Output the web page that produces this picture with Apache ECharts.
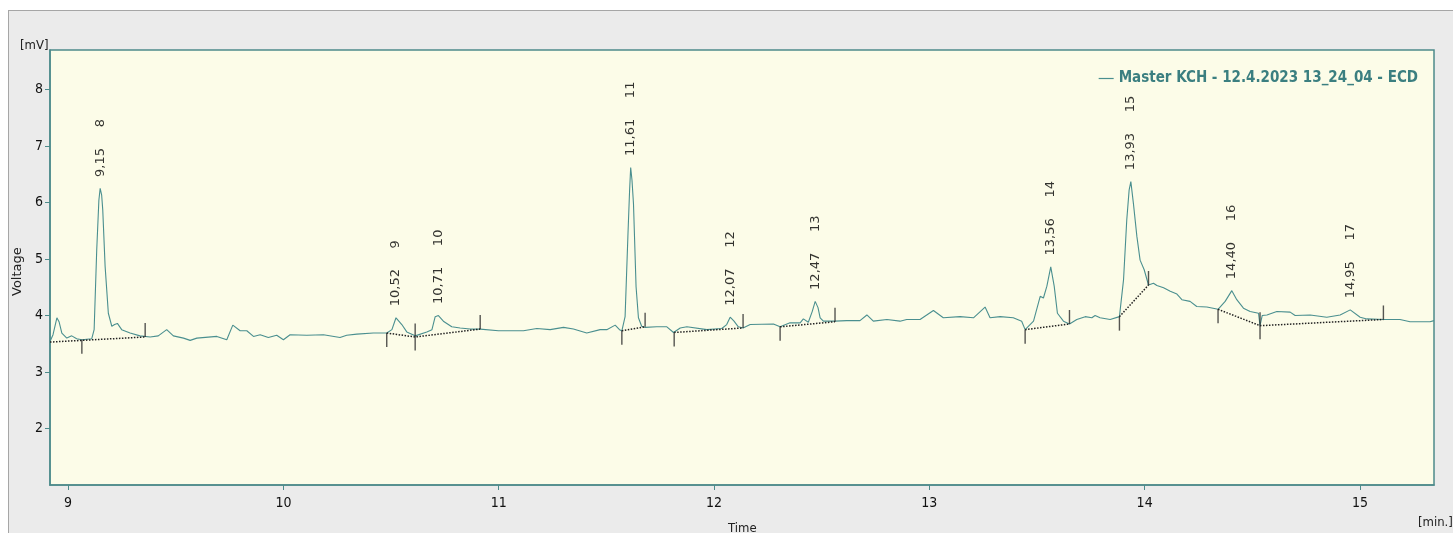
<!DOCTYPE html>
<html>
<head>
<meta charset="utf-8">
<script src="https://cdn.jsdelivr.net/npm/echarts@6/dist/echarts.min.js"></script>
<style>
  html, body { margin: 0; padding: 0; background: #ffffff; }
  #frame {
    position: absolute; left: 8px; top: 10px; width: 1445px; height: 523px;
    background: #ebebeb; border-left: 1px solid #a6a6a6; border-top: 1px solid #a6a6a6;
    box-sizing: border-box;
  }
  #chart { position: absolute; left: 0; top: 0; width: 1453px; height: 533px; }
</style>
</head>
<body>
<div id="frame"></div>
<div id="chart"></div>
<script>
// chromatogram trace [min] / [mV]
var TIME = [8.916, 8.930, 8.948, 8.958, 8.971, 8.994, 9.017, 9.040, 9.064, 9.110, 9.121, 9.133, 9.143, 9.149, 9.156, 9.161, 9.172, 9.187, 9.203, 9.216,
  9.229, 9.249, 9.288, 9.334, 9.381, 9.419, 9.458, 9.489, 9.536, 9.567, 9.598, 9.691, 9.737, 9.765, 9.799, 9.830, 9.861, 9.892, 9.930, 9.969,
  10.000, 10.031, 10.109, 10.186, 10.263, 10.294, 10.341, 10.418, 10.480, 10.504, 10.523, 10.550, 10.573, 10.612, 10.666, 10.690, 10.705, 10.720, 10.743, 10.782,
  10.821, 10.867, 10.914, 10.999, 11.115, 11.177, 11.239, 11.301, 11.347, 11.409, 11.471, 11.502, 11.541, 11.561, 11.572, 11.587, 11.600, 11.608, 11.613, 11.619,
  11.626, 11.638, 11.649, 11.664, 11.680, 11.734, 11.781, 11.812, 11.843, 11.874, 11.967, 12.036, 12.059, 12.075, 12.093, 12.113, 12.135, 12.168, 12.276, 12.307,
  12.353, 12.400, 12.415, 12.438, 12.456, 12.470, 12.483, 12.493, 12.508, 12.562, 12.616, 12.678, 12.710, 12.740, 12.803, 12.864, 12.895, 12.957, 13.019, 13.065,
  13.143, 13.205, 13.259, 13.282, 13.329, 13.390, 13.429, 13.445, 13.484, 13.515, 13.530, 13.546, 13.564, 13.580, 13.595, 13.623, 13.651, 13.685, 13.724, 13.755,
  13.770, 13.793, 13.840, 13.883, 13.902, 13.917, 13.928, 13.936, 13.948, 13.964, 13.979, 13.998, 14.018, 14.041, 14.057, 14.088, 14.119, 14.150, 14.173, 14.211,
  14.242, 14.289, 14.341, 14.374, 14.405, 14.428, 14.459, 14.490, 14.529, 14.536, 14.546, 14.568, 14.614, 14.676, 14.699, 14.769, 14.846, 14.908, 14.955, 15.001,
  15.032, 15.109, 15.186, 15.233, 15.325, 15.344];
var MV = [3.54, 3.66, 3.96, 3.89, 3.69, 3.60, 3.64, 3.59, 3.57, 3.59, 3.75, 5.16, 6.04, 6.25, 6.13, 5.87, 4.87, 4.04, 3.81, 3.84,
  3.86, 3.75, 3.69, 3.64, 3.62, 3.64, 3.75, 3.64, 3.60, 3.56, 3.60, 3.63, 3.57, 3.83, 3.73, 3.73, 3.63, 3.66, 3.61, 3.65,
  3.57, 3.66, 3.65, 3.66, 3.61, 3.65, 3.67, 3.69, 3.69, 3.75, 3.96, 3.84, 3.71, 3.64, 3.71, 3.75, 3.98, 4.00, 3.90, 3.80,
  3.78, 3.76, 3.76, 3.73, 3.73, 3.77, 3.75, 3.79, 3.76, 3.69, 3.75, 3.75, 3.83, 3.75, 3.73, 3.98, 5.40, 6.22, 6.62, 6.40,
  5.98, 4.51, 3.96, 3.81, 3.79, 3.80, 3.80, 3.70, 3.78, 3.80, 3.75, 3.77, 3.84, 3.97, 3.90, 3.80, 3.78, 3.84, 3.85, 3.80,
  3.87, 3.87, 3.94, 3.88, 4.07, 4.25, 4.14, 3.96, 3.90, 3.90, 3.91, 3.91, 4.01, 3.90, 3.93, 3.90, 3.93, 3.93, 4.09, 3.96,
  3.98, 3.96, 4.15, 3.96, 3.98, 3.96, 3.90, 3.75, 3.90, 4.34, 4.31, 4.52, 4.86, 4.52, 4.04, 3.90, 3.85, 3.93, 3.98, 3.96,
  4.00, 3.96, 3.93, 3.98, 4.63, 5.69, 6.22, 6.37, 5.98, 5.40, 4.98, 4.81, 4.54, 4.57, 4.53, 4.49, 4.43, 4.38, 4.28, 4.25,
  4.16, 4.15, 4.11, 4.25, 4.44, 4.28, 4.13, 4.07, 4.04, 3.82, 4.00, 4.01, 4.07, 4.06, 4.00, 4.01, 3.97, 4.01, 4.10, 3.97,
  3.94, 3.93, 3.93, 3.89, 3.89, 3.91];

// integrated peaks
var PEAK_T = [9.149, 10.523, 10.720, 11.613, 12.075, 12.470, 13.564, 13.936, 14.405, 14.955];
var PEAK_MV = [6.25, 3.96, 4.00, 6.62, 3.97, 4.25, 4.86, 6.37, 4.44, 4.10];
var PEAK_RT = ['9,15', '10,52', '10,71', '11,61', '12,07', '12,47', '13,56', '13,93', '14,40', '14,95'];
var PEAK_NO = ['8', '9', '10', '11', '12', '13', '14', '15', '16', '17'];

// peak start / end markers
var MARK_T = [9.064, 9.358, 10.480, 10.612, 10.914, 11.572, 11.680, 11.815, 12.135, 12.307, 12.562, 13.445, 13.651, 13.883, 14.018, 14.341, 14.536, 15.109];
var MARK_MV = [3.57, 3.62, 3.69, 3.62, 3.76, 3.73, 3.80, 3.70, 3.78, 3.80, 3.89, 3.75, 3.85, 3.98, 4.54, 4.11, 3.82, 3.93];
var MARK_DIR = ['down', 'up', 'down', 'both', 'up', 'down', 'up', 'down', 'up', 'down', 'up', 'down', 'up', 'down', 'up', 'down', 'both', 'up'];

// dotted baselines (null = gap)
var BASE_T = [8.916, 9.358, null, 10.480, 10.612, 10.914, null, 11.572, 11.680, null, 11.815, 12.135, null, 12.307, 12.562, null,
  13.445, 13.651, null, 13.883, 14.018, null, 14.341, 14.536, 15.109];
var BASE_MV = [3.53, 3.62, null, 3.69, 3.62, 3.76, null, 3.73, 3.80, null, 3.70, 3.78, null, 3.80, 3.89, null,
  3.75, 3.85, null, 3.98, 4.54, null, 4.11, 3.82, 3.93];

var X_TICKS = [9, 10, 11, 12, 13, 14, 15];
var Y_TICKS = [2, 3, 4, 5, 6, 7, 8];
var TRACE_NAME = 'Master KCH - 12.4.2023 13_24_04 - ECD';

var teal = '#4d8b8b';
var narrow = "'Liberation Sans Narrow', 'DejaVu Sans Condensed', sans-serif";

var trace = TIME.map(function (t, i) { return [t, MV[i]]; });
var base = BASE_T.map(function (t, i) { return t === null ? [null, null] : [t, BASE_MV[i]]; });
var marks = MARK_T.map(function (t, i) {
  var d = MARK_DIR[i];
  return {
    value: [t, MARK_MV[i]],
    symbolSize: d === 'both' ? [1.4, 27] : [1.4, 14],
    symbolOffset: d === 'both' ? [0, 0] : (d === 'down' ? [0, 7] : [0, -7])
  };
});
var peaks = PEAK_T.map(function (t, i) { return [t, PEAK_MV[i], i]; });

var chart = echarts.init(document.getElementById('chart'));
chart.setOption({
  animation: false,
  backgroundColor: 'transparent',
  grid: {
    left: 50, top: 50, right: 19, bottom: 48,
    show: true, backgroundColor: '#fcfce8', borderColor: teal, borderWidth: 1.5
  },
  legend: {
    data: [TRACE_NAME],
    right: 30, top: 66,
    icon: 'rect', itemWidth: 15, itemHeight: 1.2, itemGap: 6,
    textStyle: { color: '#3b7f80', fontWeight: 'bold', fontSize: 15, fontFamily: narrow }
  },
  xAxis: {
    type: 'value', min: 8.916, max: 15.344,
    axisLine: { lineStyle: { color: teal, width: 1.5 } },
    axisTick: { customValues: X_TICKS, length: 5, lineStyle: { color: teal } },
    axisLabel: { customValues: X_TICKS, margin: 11, color: '#111', fontSize: 14, fontFamily: narrow },
    splitLine: { show: false }
  },
  yAxis: {
    type: 'value', min: 1, max: 8.7,
    axisLine: { show: true, lineStyle: { color: teal, width: 1.5 } },
    axisTick: { show: true, customValues: Y_TICKS, length: 5, lineStyle: { color: teal } },
    axisLabel: { customValues: Y_TICKS, margin: 7, color: '#111', fontSize: 14, fontFamily: narrow },
    splitLine: { show: false }
  },
  graphic: [
    { type: 'text', left: 20, top: 39, style: { text: '[mV]', fill: '#222', font: "13px " + narrow } },
    { type: 'text', x: 11, y: 296, rotation: Math.PI / 2, style: { text: 'Voltage', fill: '#222', font: "13px 'DejaVu Sans', sans-serif" } },
    { type: 'text', left: 728, top: 522, style: { text: 'Time', fill: '#222', font: "13px " + narrow } },
    { type: 'text', left: 1418, top: 516, style: { text: '[min.]', fill: '#222', font: "13px " + narrow } }
  ],
  series: [
    {
      name: TRACE_NAME, type: 'line', data: trace, showSymbol: false, symbol: 'none',
      lineStyle: { color: '#4a8f8f', width: 1.1 }, itemStyle: { color: '#4a8f8f' }, z: 3
    },
    {
      name: 'baseline', type: 'line', data: base, showSymbol: false, symbol: 'none', connectNulls: false,
      lineStyle: { color: '#222', width: 1.5, type: [1.5, 1.5] }, z: 4
    },
    {
      name: 'marks', type: 'scatter', data: marks, symbol: 'rect',
      itemStyle: { color: '#2a2a2a' }, z: 5
    },
    {
      name: 'peaks', type: 'scatter', data: peaks, symbolSize: 1, itemStyle: { color: 'transparent' },
      label: {
        show: true, position: 'top', distance: 11, rotate: 90, align: 'left', verticalAlign: 'middle',
        color: '#000', fontSize: 13, fontFamily: "'DejaVu Sans', sans-serif",
        formatter: function (p) { return PEAK_RT[p.value[2]] + '     ' + PEAK_NO[p.value[2]]; }
      },
      z: 6
    }
  ]
});
</script>
</body>
</html>
